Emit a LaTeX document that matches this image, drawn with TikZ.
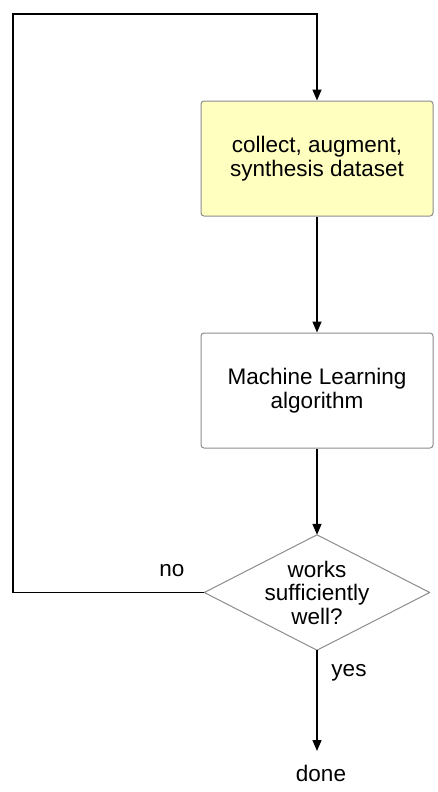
\documentclass[tikz,border=0pt]{standalone}
\usepackage{fontspec}
\setmainfont{Liberation Sans}
\usetikzlibrary{arrows.meta}
\definecolor{boxyellow}{HTML}{FFFFC0}
\definecolor{boxborder}{HTML}{8C8C8C}
\tikzset{
  txt/.style={font=\fontsize{22.5}{23.5}\selectfont},
  flowbox/.style={txt, draw=boxborder, line width=1pt, rounded corners=3pt, minimum width=232pt, minimum height=115pt, align=center, inner sep=0pt},
  decision/.style={txt, minimum width=225pt, minimum height=115pt, inner sep=0pt, align=center},
  diamondline/.style={draw=boxborder, line width=1pt, line join=round},
  conn/.style={line width=1.5pt, -{Triangle[length=11pt,width=9pt]}},
  lbl/.style={txt, inner sep=0pt}
}
\begin{document}
\begin{tikzpicture}[x=1pt,y=-1pt]
\useasboundingbox (0,0) rectangle (437,792);
\node[flowbox, fill=boxyellow] (collect) at (317,158.5) {collect, augment,\\synthesis dataset};
\node[flowbox, fill=white] (ml) at (317,390.5) {Machine Learning\\algorithm};
\node[decision] (dec) at (317,592.5) {works\\sufficiently\\well?};
\draw[diamondline] (dec.north) -- (dec.east) -- (dec.south) -- (dec.west) -- cycle;
\node[lbl] (done) at (321,773) {done};
\node[lbl] (no) at (172,571) {no};
\node[lbl] (yes) at (349,673) {yes};
\coordinate (donetop) at (317,751);
\coordinate (c1) at (13,592.5);
\coordinate (c2) at (13,14);
\coordinate (c3) at (317,14);
\draw[conn] (collect.south) -- (ml.north);
\draw[conn] (ml.south) -- (dec.north);
\draw[conn] (dec.south) -- (donetop);
\draw[conn] (dec.west) -- (c1) -- (c2) -- (c3) -- (collect.north);
\end{tikzpicture}
\end{document}
